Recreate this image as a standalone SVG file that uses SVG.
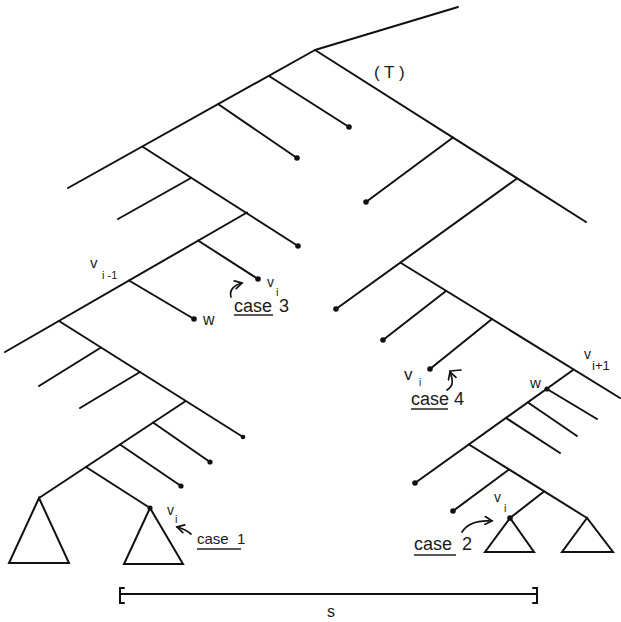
<svg xmlns="http://www.w3.org/2000/svg" width="621" height="622" viewBox="0 0 621 622">
  <style>
    .edge { stroke: #111; stroke-width: 2; fill: none; stroke-linecap: round; }
    .tri { stroke: #111; stroke-width: 2; fill: none; stroke-linejoin: miter; }
    .dot { fill: #111; }
    .lbl { font-family: "Liberation Sans", Arial, sans-serif; fill: #1a1a1a; }
    .ul { stroke: #222; stroke-width: 1.3; }
    .curl { stroke: #111; stroke-width: 1.7; fill: none; stroke-linecap: round; }
  </style>
  <defs>
    <marker id="head" markerUnits="userSpaceOnUse" markerWidth="10" markerHeight="10" viewBox="0 0 10 10" refX="8" refY="5" orient="auto">
      <path d="M1,1 L8,5 L1,9" fill="none" stroke="#111" stroke-width="1.7" stroke-linecap="round"/>
    </marker>
  </defs>
  <rect width="621" height="622" fill="#fff"/>

  <!-- branches of the tree -->
  <g id="connectors">
    <line class="edge" x1="315" y1="50" x2="458" y2="7"/>
    <line class="edge" x1="315" y1="50" x2="68" y2="188"/>
    <line class="edge" x1="315" y1="50" x2="586" y2="222"/>
    <line class="edge" x1="269" y1="76" x2="349" y2="127"/>
    <line class="edge" x1="218" y1="104" x2="297" y2="158"/>
    <line class="edge" x1="143" y1="147" x2="298" y2="246"/>
    <line class="edge" x1="191" y1="178" x2="118" y2="219"/>
    <line class="edge" x1="247" y1="212.5" x2="5" y2="352"/>
    <line class="edge" x1="198" y1="240.5" x2="258" y2="279"/>
    <line class="edge" x1="129" y1="280.5" x2="194" y2="319"/>
    <line class="edge" x1="59" y1="321" x2="243" y2="437"/>
    <line class="edge" x1="101" y1="347.5" x2="39" y2="386"/>
    <line class="edge" x1="140" y1="372" x2="80" y2="408"/>
    <line class="edge" x1="185" y1="401.5" x2="39" y2="498"/>
    <line class="edge" x1="153" y1="422.5" x2="210" y2="462"/>
    <line class="edge" x1="120" y1="444.5" x2="181" y2="486"/>
    <line class="edge" x1="86" y1="467" x2="150" y2="508"/>

    <line class="edge" x1="453" y1="137.5" x2="366" y2="202"/>
    <line class="edge" x1="517" y1="178.5" x2="336" y2="309"/>
    <line class="edge" x1="401" y1="263" x2="620" y2="398"/>
    <line class="edge" x1="446" y1="291" x2="383" y2="340"/>
    <line class="edge" x1="492" y1="319" x2="430" y2="369"/>
    <line class="edge" x1="573" y1="370" x2="415" y2="483"/>
    <line class="edge" x1="547" y1="389" x2="597" y2="419"/>
    <line class="edge" x1="528" y1="402.5" x2="577" y2="436"/>
    <line class="edge" x1="506" y1="418" x2="560" y2="453"/>
    <line class="edge" x1="469" y1="444.5" x2="587" y2="518"/>
    <line class="edge" x1="509" y1="469.5" x2="453" y2="511"/>
    <line class="edge" x1="544" y1="491.5" x2="510" y2="518"/>
  </g>

  <!-- leaves -->
  <g id="leaf-dots">
    <circle class="dot" cx="349" cy="127" r="2.8"/>
    <circle class="dot" cx="297" cy="158" r="2.8"/>
    <circle class="dot" cx="298" cy="246" r="2.8"/>
    <circle class="dot" cx="258" cy="279" r="2.8"/>
    <circle class="dot" cx="194" cy="319" r="2.8"/>
    <circle class="dot" cx="243" cy="437" r="2.3"/>
    <circle class="dot" cx="210" cy="462" r="2.6"/>
    <circle class="dot" cx="181" cy="486" r="2.6"/>
    <circle class="dot" cx="150" cy="508" r="2.6"/>
    <circle class="dot" cx="366" cy="202" r="2.8"/>
    <circle class="dot" cx="336" cy="309" r="2.8"/>
    <circle class="dot" cx="383" cy="340" r="2.8"/>
    <circle class="dot" cx="430" cy="369" r="2.8"/>
    <circle class="dot" cx="547" cy="389" r="2.6"/>
    <circle class="dot" cx="415" cy="483" r="2.8"/>
    <circle class="dot" cx="453" cy="511" r="2.8"/>
    <circle class="dot" cx="510" cy="518" r="2.8"/>
  </g>

  <!-- subtrees -->
  <g id="subtree-1"><polygon class="tri" points="39,498 9,563 69,563"/></g>
  <g id="subtree-2"><polygon class="tri" points="150,508 124,564 183,564"/></g>
  <g id="subtree-3"><polygon class="tri" points="510,518 485,552 534,552"/></g>
  <g id="subtree-4"><polygon class="tri" points="587,518 562,552 613,552"/></g>

  <!-- vertex labels -->
  <g id="labels" class="lbl">
    <text x="374" y="78" font-size="17">( T )</text>
    <text x="90" y="268" font-size="15">v</text>
    <text x="102" y="279" font-size="11">i -1</text>
    <text x="267" y="287" font-size="14">v</text>
    <text x="276" y="296" font-size="11">i</text>
    <text x="203" y="325" font-size="16">w</text>
    <text x="167" y="515" font-size="14">v</text>
    <text x="175" y="523" font-size="11">i</text>
    <text x="404" y="380" font-size="17">v</text>
    <text x="419" y="386" font-size="10">i</text>
    <text x="584" y="359" font-size="14">v</text>
    <text x="592" y="370" font-size="13">i+1</text>
    <text x="530" y="388" font-size="15">w</text>
    <text x="494" y="502" font-size="14">v</text>
    <text x="504" y="512" font-size="11">i</text>
    <text x="327" y="617" font-size="16">s</text>
  </g>

  <!-- case annotations -->
  <g id="case-1">
    <text class="lbl" x="197" y="544" font-size="15">case<tspan x="237">1</tspan></text>
    <line class="ul" x1="197" y1="549" x2="241" y2="549"/>
    <path class="curl" d="M191,534 Q185,529 177,527" marker-end="url(#head)"/>
  </g>
  <g id="case-2">
    <text class="lbl" x="414" y="550" font-size="18">case<tspan x="462">2</tspan></text>
    <line class="ul" x1="414" y1="555" x2="456" y2="555"/>
    <path class="curl" d="M462,532 C467,524 478,520 492,521" marker-end="url(#head)"/>
  </g>
  <g id="case-3">
    <text class="lbl" x="234" y="312" font-size="18">case<tspan x="279">3</tspan></text>
    <line class="ul" x1="234" y1="315" x2="273" y2="315"/>
    <path class="curl" d="M231,297 C229,290 234,285 242,283" marker-end="url(#head)"/>
  </g>
  <g id="case-4">
    <text class="lbl" x="411" y="405" font-size="18">case<tspan x="454">4</tspan></text>
    <line class="ul" x1="411" y1="409" x2="448" y2="409"/>
    <path class="curl" d="M447,390 C455,385 452,378 450,372" marker-end="url(#head)"/>
    <line class="curl" x1="450" y1="371" x2="461" y2="370"/>
  </g>

  <!-- width bar -->
  <g id="scale-bar">
    <line class="edge" x1="120" y1="594" x2="537" y2="594" stroke-width="1.6"/>
    <path class="edge" d="M124,588 L120,588 L120,603 L124,603" stroke-width="1.6"/>
    <path class="edge" d="M533,588 L537,588 L537,603 L533,603" stroke-width="1.6"/>
  </g>
</svg>
